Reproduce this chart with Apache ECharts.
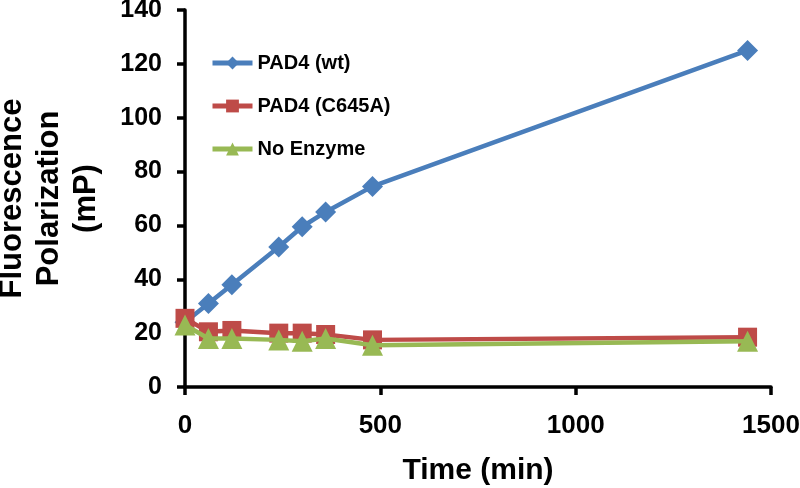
<!DOCTYPE html>
<html><head><meta charset="utf-8">
<script src="https://cdn.jsdelivr.net/npm/echarts@6/dist/echarts.min.js"></script>
<style>html,body{margin:0;padding:0;background:#fff}#c{width:800px;height:488px}</style>
</head><body><div id="c"></div>
<script>
const times = [0, 60, 120, 240, 300, 360, 480, 1440];
const wt = [24, 31, 38, 52, 59.5, 65, 74.5, 125];
const c645a = [25.5, 20.5, 21, 20, 20, 19.5, 17.5, 18.5];
const noEnzyme = [23, 18, 18, 17.5, 17, 18, 15.5, 17];
const seriesNames = ['PAD4 (wt)', 'PAD4 (C645A)', 'No Enzyme'];
const font = 'Liberation Sans, Arial, sans-serif';
const chart = echarts.init(document.getElementById('c'));
const pair = arr => times.map((t, i) => [t, arr[i]]);
chart.setOption({
  animation: false,
  backgroundColor: '#fff',
  grid: {left: 185, right: 29, top: 10, bottom: 101, containLabel: false, outerBoundsMode: 'none'},
  legend: {
    orient: 'vertical', left: 205, top: 48, itemGap: 23, itemWidth: 40, itemHeight: 16,
    lineStyle: {width: 5},
    textStyle: {fontFamily: font, fontWeight: 'bold', fontSize: 20, color: '#000'},
    data: seriesNames
  },
  xAxis: {
    type: 'value', min: 0, max: 1500, interval: 500,
    name: 'Time (min)', nameLocation: 'middle', nameGap: 69,
    nameTextStyle: {fontFamily: font, fontWeight: 'bold', fontSize: 30, color: '#000'},
    axisLine: {lineStyle: {color: '#000', width: 3.5}},
    axisTick: {lineStyle: {color: '#000', width: 3.5}, length: 8},
    axisLabel: {fontFamily: font, fontWeight: 'bold', fontSize: 26, color: '#000', margin: 26, formatter: v => String(v)},
    splitLine: {show: false}
  },
  yAxis: {
    type: 'value', min: 0, max: 140, interval: 20,
    name: 'Fluorescence\nPolarization\n(mP)', nameLocation: 'middle', nameGap: 80, nameRotate: 90,
    nameTextStyle: {fontFamily: font, fontWeight: 'bold', fontSize: 31, color: '#000', lineHeight: 37},
    axisLine: {lineStyle: {color: '#000', width: 3.5}},
    axisTick: {lineStyle: {color: '#000', width: 3.5}, length: 8},
    axisLabel: {fontFamily: font, fontWeight: 'bold', fontSize: 25, color: '#000', margin: 23, formatter: v => String(v)},
    splitLine: {show: false}
  },
  series: [
    {name: seriesNames[0], type: 'line', data: pair(wt), symbol: 'diamond', symbolSize: 21,
     itemStyle: {color: '#4a7ebb'}, lineStyle: {width: 4.5, color: '#4a7ebb'}, z: 2},
    {name: seriesNames[1], type: 'line', data: pair(c645a), symbol: 'rect', symbolSize: 19,
     itemStyle: {color: '#be4b48'}, lineStyle: {width: 4.5, color: '#be4b48'}, z: 3},
    {name: seriesNames[2], type: 'line', data: pair(noEnzyme), symbol: 'triangle', symbolSize: 21,
     itemStyle: {color: '#98b954'}, lineStyle: {width: 4.5, color: '#98b954'}, z: 4}
  ]
});
</script></body></html>
